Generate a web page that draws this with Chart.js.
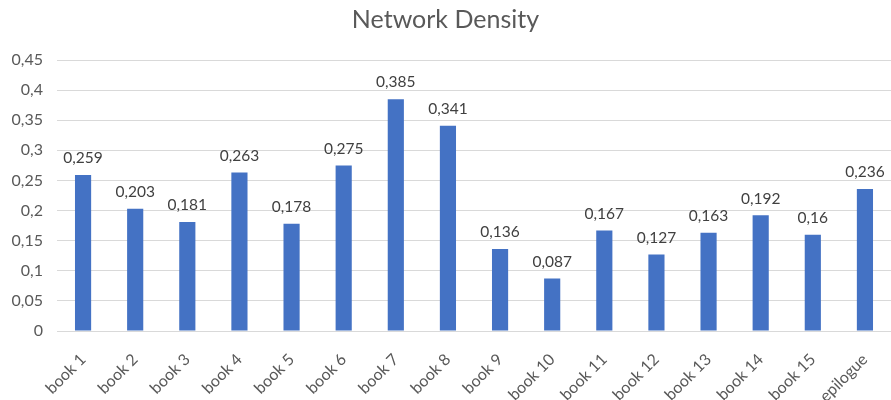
<!DOCTYPE html>
<html>
<head>
<meta charset="utf-8">
<script src="https://cdn.jsdelivr.net/npm/chart.js@4"></script>
<style>
html,body{margin:0;padding:0;background:#fff;}
#wrap{width:891px;height:400px;}
</style>
</head>
<body>
<div id="wrap"><canvas id="c" width="891" height="400"></canvas></div>
<script>
const categories = ["book 1","book 2","book 3","book 4","book 5","book 6","book 7","book 8","book 9","book 10","book 11","book 12","book 13","book 14","book 15","epilogue"];
const densityValues = [0.259,0.203,0.181,0.263,0.178,0.275,0.385,0.341,0.136,0.087,0.167,0.127,0.163,0.192,0.16,0.236];
const yTicks = [0,0.05,0.1,0.15,0.2,0.25,0.3,0.35,0.4,0.45];

const fmt = v => String(Math.round(v*1000)/1000).replace('.', ',');
const FONT = "Lato, 'Open Sans', sans-serif";
const GREY = '#595959';

const labelPlugin = {
  id: 'barLabels',
  afterDatasetsDraw(chart) {
    const ctx = chart.ctx;
    const meta = chart.getDatasetMeta(0);
    ctx.save();
    ctx.font = "15.5px " + FONT;
    ctx.fillStyle = '#404040';
    ctx.textAlign = 'center';
    ctx.textBaseline = 'bottom';
    meta.data.forEach((bar, i) => {
      ctx.fillText(fmt(densityValues[i]), bar.x, bar.y - 9);
    });
    ctx.restore();
  }
};

new Chart(document.getElementById('c'), {
  type: 'bar',
  data: {
    labels: categories,
    datasets: [{
      label: 'Network Density',
      data: densityValues,
      backgroundColor: '#4472C4',
      barPercentage: 0.62,
      categoryPercentage: 0.5
    }]
  },
  options: {
    responsive: false,
    animation: false,
    layout: { padding: { left: 0, right: 0, top: 0, bottom: 0 } },
    plugins: {
      legend: { display: false },
      tooltip: { enabled: false },
      title: {
        display: true,
        text: 'Network Density',
        color: GREY,
        font: { family: FONT, size: 25, weight: 'normal' },
        padding: { top: 5, bottom: 25 }
      }
    },
    scales: {
      y: {
        min: 0,
        max: 0.45,
        afterBuildTicks(scale) { scale.ticks = yTicks.map(v => ({ value: v })); },
        afterFit(scale) { scale.width = 57; },
        ticks: {
          color: GREY,
          font: { family: FONT, size: 16 },
          padding: 14,
          callback: v => fmt(v)
        },
        grid: { color: '#d9d9d9', lineWidth: 1, drawTicks: false },
        border: { display: false }
      },
      x: {
        afterFit(scale) { scale.height = 69; },
        ticks: {
          color: GREY,
          font: { family: FONT, size: 16 },
          maxRotation: 45,
          minRotation: 45,
          padding: 11
        },
        grid: { display: false },
        border: { display: false }
      }
    }
  },
  plugins: [labelPlugin]
});
</script>
</body>
</html>
